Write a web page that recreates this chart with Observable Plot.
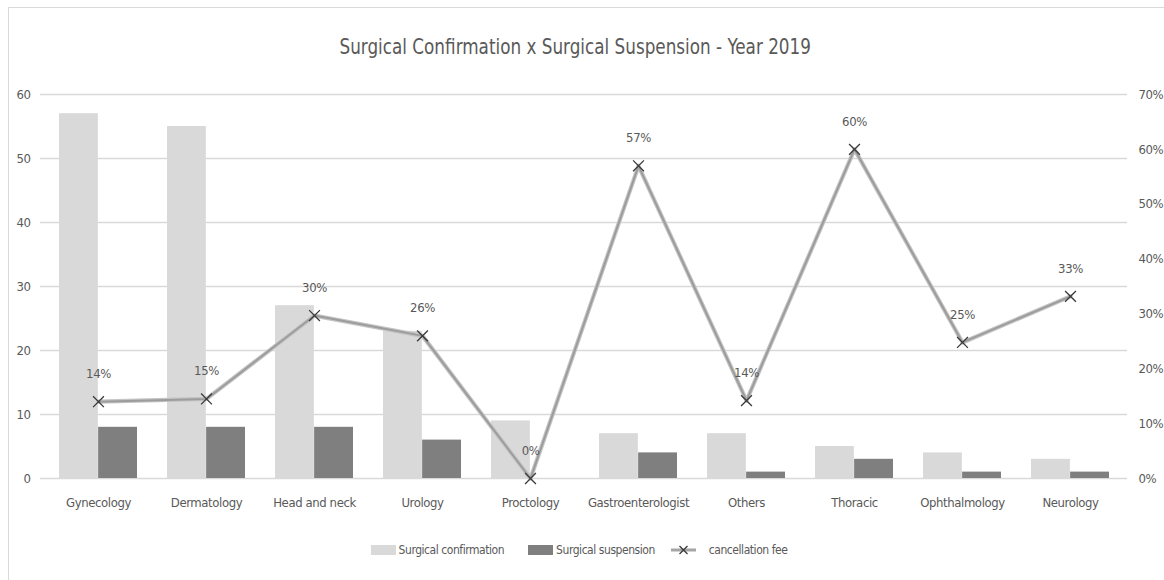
<!DOCTYPE html>
<html>
<head>
<meta charset="utf-8">
<script src="https://cdn.jsdelivr.net/npm/d3@7"></script>
<script src="https://cdn.jsdelivr.net/npm/@observablehq/plot@0.6"></script>
<style>
  html, body { margin: 0; padding: 0; background: #fff; }
  #wrap { position: relative; width: 1164px; height: 580px; overflow: hidden;
    font-family: 'Liberation Sans Narrow', 'DejaVu Sans Condensed', 'Open Sans', sans-serif; font-stretch: condensed; color: #595959; }
  #frame { position: absolute; left: 8px; top: 7px; width: 1200px; height: 620px; border: 1px solid #d9d9d9; box-sizing: border-box; }
  #title { position: absolute; left: -6px; top: 0; width: 1164px; height: 80px; line-height: 94px; text-align: center; font-size: 21px; color: #595959; transform: scaleX(0.89); transform-origin: 575px 0; }
  #chart { position: absolute; left: 0; top: 80px; }
  #legend { position: absolute; left: 0; top: 520px; width: 1164px; height: 60px; display: flex; justify-content: center; align-items: center; font-size: 12px; letter-spacing: -0.45px; color: #595959; gap: 24px; padding-right: 6px; box-sizing: border-box; }
  .item { display: flex; align-items: center; gap: 3px; }
  .sw { width: 25px; height: 10px; display: inline-block; }
</style>
</head>
<body>
<div id="wrap">
  <div id="frame"></div>
  <div id="title">Surgical Confirmation x Surgical Suspension - Year 2019</div>
  <div id="chart"></div>
  <div id="legend"></div>
</div>
<script>
const categories = ["Gynecology", "Dermatology", "Head and neck", "Urology", "Proctology", "Gastroenterologist", "Others", "Thoracic", "Ophthalmology", "Neurology"];
const confirmation = [57, 55, 27, 23, 9, 7, 7, 5, 4, 3];
const suspension = [8, 8, 8, 6, 0, 4, 1, 3, 1, 1];
const cancellationFee = [0.14, 0.145, 0.297, 0.26, 0, 0.57, 0.142, 0.60, 0.248, 0.332];
const feeLabels = ["14%", "15%", "30%", "26%", "0%", "57%", "14%", "60%", "25%", "33%"];
const leftTicks = [0, 10, 20, 30, 40, 50, 60];
const rightTicks = [0, 0.1, 0.2, 0.3, 0.4, 0.5, 0.6, 0.7];
const rightTickLabels = ["0%", "10%", "20%", "30%", "40%", "50%", "60%", "70%"];
const seriesNames = ["Surgical confirmation", "Surgical suspension", "cancellation fee"];

const leftMax = 60, rightMax = 0.7;
const toLeft = p => p * leftMax / rightMax;

const rows = categories.map((c, i) => ({
  category: c, confirmation: confirmation[i], suspension: suspension[i],
  fee: cancellationFee[i], label: feeLabels[i]
}));

const textColor = "#595959";
const lightBar = "#d9d9d9";
const darkBar = "#7f7f7f";
const bandwidth = (1164 - 40 - 37) / categories.length * 0.72;

const chart = Plot.plot({
  width: 1164,
  height: 440,
  marginTop: 14,
  marginBottom: 42,
  marginLeft: 40,
  marginRight: 37,
  style: { fontFamily: "'Liberation Sans Narrow', 'DejaVu Sans Condensed', sans-serif", fontSize: "13px", color: textColor, background: "transparent", letterSpacing: "-0.4px" },
  x: { domain: categories, paddingInner: 0.28, paddingOuter: 0.14, label: null },
  y: { domain: [0, leftMax], label: null },
  marks: [
    Plot.ruleY(leftTicks, { stroke: "#d9d9d9", strokeWidth: 1.3 }),
    Plot.axisX({ tickSize: 0, tickPadding: 19, label: null, fontSize: 13 }),
    Plot.axisY({ ticks: leftTicks, anchor: "left", tickSize: 0, tickPadding: 10, label: null, fontSize: 13 }),
    Plot.axisY({ ticks: rightTicks.map(toLeft), anchor: "right", tickSize: 0, tickPadding: 11, label: null, fontSize: 13,
      textAnchor: "start", tickFormat: (d, i) => rightTickLabels[i] }),
    Plot.barY(rows, { x: "category", y: "confirmation", fill: lightBar, insetRight: bandwidth / 2 }),
    Plot.barY(rows, { x: "category", y: "suspension", fill: darkBar, insetLeft: bandwidth / 2 }),
    Plot.line(rows, { x: "category", y: d => toLeft(d.fee), stroke: "#c4c4c4", strokeWidth: 4.2 }),
    Plot.line(rows, { x: "category", y: d => toLeft(d.fee), stroke: "#9c9c9c", strokeWidth: 2 }),
    Plot.dot(rows, { x: "category", y: d => toLeft(d.fee), symbol: "times", r: 5, stroke: "#3a3a3a", strokeWidth: 1.3 }),
    Plot.text(rows, { x: "category", y: d => toLeft(d.fee), text: "label", dy: -28, fill: textColor, fontSize: 13 })
  ]
});
document.getElementById("chart").appendChild(chart);

// Legend
const legend = document.getElementById("legend");
const swatches = [
  `<span class="sw" style="background:${lightBar}"></span>`,
  `<span class="sw" style="background:${darkBar}"></span>`,
  `<svg width="25" height="12" viewBox="0 0 25 12"><line x1="0" y1="6" x2="25" y2="6" stroke="#a5a5a5" stroke-width="3"/><path d="M8.5 2 L16.5 10 M16.5 2 L8.5 10" stroke="#3a3a3a" stroke-width="1.3"/></svg>`
];
seriesNames.forEach((name, i) => {
  const item = document.createElement("div");
  item.className = "item";
  if (i === 2) item.style.marginLeft = "-8px";
  item.innerHTML = swatches[i] + `<span style="margin-left:${i === 2 ? 10 : 0}px">${name}</span>`;
  legend.appendChild(item);
});
</script>
</body>
</html>
